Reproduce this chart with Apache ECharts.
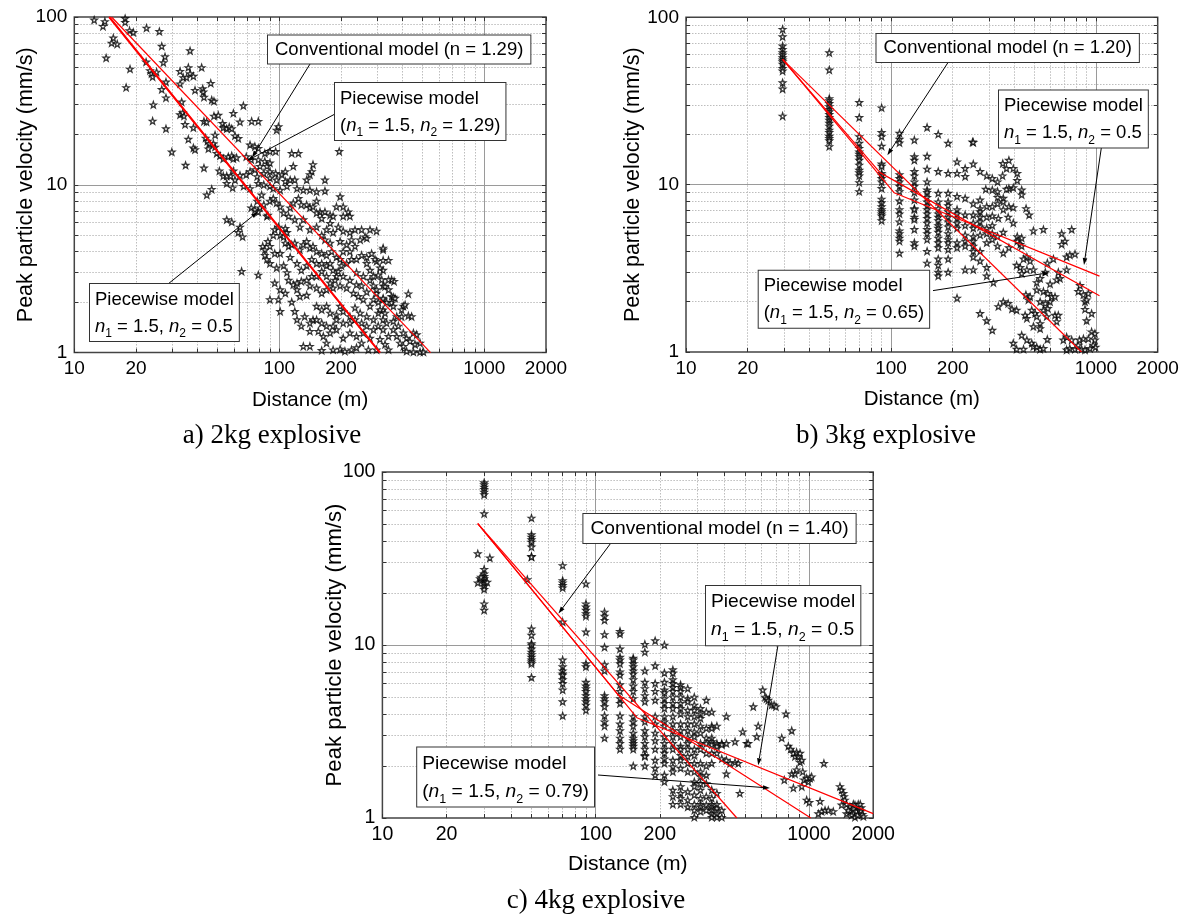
<!DOCTYPE html>
<html>
<head>
<meta charset="utf-8">
<script src="https://cdn.jsdelivr.net/npm/echarts@6.0.0/dist/echarts.min.js"></script>
<style>html,body{margin:0;padding:0;background:#fff}#c{width:1189px;height:920px}</style>
</head>
<body>
<div id="c"></div>
<script>
// ---------- tick / label values ----------
const xLabelValues = [10, 20, 100, 200, 1000, 2000];
const yLabelValues = [1, 10, 100];
const xTickValues = [10,20,30,40,50,60,70,80,90,100,200,300,400,500,600,700,800,900,1000,2000];
const xMinorGrid = [20,30,40,50,60,70,80,90,200,300,400,500,600,700,800,900];
const xMajorGrid = [100, 1000];
const yTickValues = [1,2,3,4,5,6,7,8,9,10,20,30,40,50,60,70,80,90,100];
const yMinorGrid = [2,3,4,5,6,7,8,9,20,30,40,50,60,70,80,90];
const yMajorGrid = [10];

// ---------- panel a: 2 kg ----------
const scatterA = [
[12.5,96],[13.8,88],[14.1,94],[17.7,98],[17.7,93],[15.5,75],[15.2,70],[16.2,69],[14.3,57],[18.6,83],[19.4,81],[22.5,86],[26.0,82],[18.7,49],[17.9,38],[26.7,67],[22.4,54],[27.7,58],[27.2,53.5],[23.4,48],[23.8,46],[24.1,44],[25.2,47],[28.0,41],[26.7,37],[28.0,33],[24.3,30],[24.1,24],[28.0,21.6],[29.9,15.7],[34.9,13.1],[36.7,63],[32.8,47.5],[36.0,50],[36.7,46],[34.0,43.6],[35.3,43.6],[38.1,44.4],[41.8,50],[32.8,40],[38.8,36.6],[42.3,37.4],[42.6,35.8],[42.9,33.3],[46.3,40.3],[46.8,32],[48.0,31.5],[33.4,31.2],[32.8,26.2],[33.8,26.9],[34.3,25.7],[34.7,22.9],[36.0,18.7],[38.1,21.9],[38.1,16.6],[38.8,16.2],[42.9,23.9],[44.2,23.7],[43.7,19.0],[44.6,18.2],[45.4,17.6],[48.6,16.8],[48.0,25.7],[50.4,26.0],[52.9,23.2],[53.3,21.9],[55.4,21.6],[57.0,22.1],[58.6,21.6],[59.7,26.7],[64.3,23.7],[60.8,19.6],[63.1,18.9],[48.6,19.8],[47.7,17.6],[45.1,16.4],[49.5,15.4],[51.4,14.9],[53.3,14.3],[56.4,14.7],[58.6,14.9],[59.7,14.3],[61.9,14.5],[42.9,12.6],[51.0,12.1],[53.3,11.3],[55.4,11.3],[57.9,11.3],[59.7,12.1],[60.8,10.7],[64.3,11.4],[55.4,10.2],[59.2,9.6],[46.8,9.4],
[72,17.3],[76,16.9],[79,16.5],[85,15.4],[90,15.8],[96,15.8],[97,21.2],[99,22.2],[69,14.7],[73,14.1],[79,14.1],[85,13.8],[90,13.5],[87,12.9],[80.5,12.9],[76,12.3],[72,12.0],[69,11.5],[78,11.2],[84,11.7],[90,12.0],[96,11.7],[103,11.5],[107,12.0],[90,11.0],[97,10.7],[107,10.5],[113,10.7],[119,10.7],[79,10.2],[84,10.0],[90,9.8],[93.5,9.5],[101,9.3],[109,9.8],[115,15.4],[124,15.4],[117,12.9],[146,13.2],[144,12.0],[141,11.5],[136,10.7],[167,10.7],[196,15.8],[67,9.8],[72,9.5],[122,9.5],[131,9.3],[141,9.3],[152,9.1],[167,9.2],
[44.3,8.7],[55.4,6.2],[58.6,6.0],[64.3,5.6],[63.1,5.2],[66.2,4.9],[73,7.3],[76,7.1],[79,6.9],[80.5,7.3],[87,6.5],[88,6.6],[84,7.6],[90,8.0],[93.5,8.3],[97,7.8],[78,8.0],[82,8.7],[65.5,3.05],[79,2.9],[83,4.3],[85,4.1],[85,3.8],[88,4.6],[93.5,5.0],[95,5.4],[99,5.6],[101,5.0],[105,4.9],[109,5.2],[107,5.5],[111,6.5],[113,7.3],[117,7.8],[124,8.3],[128,7.6],[136,7.6],[141,7.3],[146,7.4],[152,8.0],[158,6.9],[167,6.9],[177,6.6],[183,6.5],[198,8.5],[205,7.4],[217,6.9],[221,6.5],[107,4.5],[111,4.3],[115,4.4],[119,4.5],[126,4.1],[131,4.4],[136,4.6],[141,4.2],[146,4.3],[152,4.0],[161,3.9],[170,3.8],[180,4.0],[190,3.7],[198,3.6],[205,4.0],[221,4.0],[234,4.3],[248,4.7],[262,4.9],[277,5.4],[298,5.3],[321,4.1],[282,3.9],[267,3.7],[298,3.5],[321,3.1],[90,3.4],[97,3.2],[105,3.3],[109,3.0],[111,2.7],[117,2.54],[122,2.6],[128,2.66],[136,2.7],[144,2.85],[152,2.85],[161,3.05],[170,3.3],[177,3.4],[183,3.1],[190,2.85],[205,2.85],[221,2.7],[238,3.0],[257,2.85],[277,2.7],[288,2.5],[298,2.26],[321,2.07],[122,2.37],[126,2.16],[136,2.2],[141,2.5],[152,2.43],[161,2.26],[170,2.37],[183,2.43],[198,2.5],[213,2.43],[230,2.26],[243,2.16],[257,2.07],[277,1.89],[90,2.07],[99,2.07],[101,1.76],[119,1.76],[133,1.64],[146,1.57],[152,1.89],[161,1.8],[170,1.89],[177,1.72],[190,1.68],[198,1.89],[205,1.76],[221,1.64],[234,1.85],[248,1.72],[267,1.64],[288,1.57],[304,1.72],[321,1.8],[141,1.34],[155,1.34],[164,1.25],[177,1.31],[190,1.37],[205,1.22],[221,1.31],[238,1.25],[257,1.31],[277,1.22],[288,1.37],[170,1.14],[183,1.04],[198,1.05],[209,1.02],[225,1.04],[238,1.07],[252,1.14],[272,1.04],[131,1.09],[141,1.09],[161,1.03],
[113,3.7],[122,3.4],[128,3.1],[136,3.3],[144,3.6],[152,3.4],[161,3.4],[170,2.85],[177,2.6],[187,2.7],[194,3.05],[201,3.3],[213,3.4],[225,3.6],[238,3.6],[252,3.8],[267,3.4],[277,3.1],[288,2.85],[304,2.9],[321,2.5],[238,2.54],[252,2.5],[267,2.3],[288,2.07],[304,2.0],[321,1.57],[252,1.5],[267,1.44],[234,1.57],[221,1.5],[205,1.5],[190,1.57],[183,1.44],[170,1.44],[161,1.5],[152,1.57],[141,1.5],[128,1.44],[122,1.57],[115,2.0],[107,2.26],[101,2.37],[95,2.6],[95,3.9],[101,3.9],[90,4.3],[87,3.6],[101,7.4],[105,6.8],[119,6.2],[126,5.6],[131,6.2],[141,5.4],[152,5.6],[161,5.0],[170,5.4],[183,5.2],[194,5.6],[205,5.3],[221,5.2],[234,5.4],[252,5.4],[267,4.8],[198,4.6],[213,4.4],[225,4.7],[167,4.7],[177,4.5],[152,6.8],[161,6.3],[177,5.9],[190,7.4],[205,6.5],
[363,2.66],[353,2.72],[426,2.24],[403,1.89],[395,1.8],[411,1.93],[374,1.64],[395,1.64],[426,1.66],[442,1.64],[360,1.54],[381,1.44],[403,1.31],[418,1.22],[434,1.17],[451,1.31],[468,1.28],[486,1.14],[459,1.12],[360,1.37],[374,1.25],[388,1.14],[403,1.09],[418,1.02],[451,1.01],[486,1.01],[505,1.01],[353,2.16],[360,2.14],[367,2.11],[353,1.98],[360,1.89],
[321,4.2],[293,3.6],[321,3.55],[341,3.55],[310,3.2],[316,2.72],[341,2.72],[328,2.48],[341,2.37],[298,2.37],[321,2.11],[334,1.99],[310,1.8],[328,1.72],[334,1.5],[304,1.44],[321,1.37],[341,1.25],[310,1.2],[328,1.12],[298,1.04],[341,1.04],
[66.8,29.6],[73.3,23.9],[79,23.9]
];
const conventionalA = [[15.2,100],[547,1]];
const piecewiseA1 = [[14.8,100],[310,1]];
const piecewiseA2 = [[14.8,100],[310,1]];

// ---------- panel b: 3 kg ----------
const columnsB = [
[29.6,[84.8,76.6,67.4,64.4,61.5,59.6,57.4,55.6,54.3,52.6,49.6,47.8,40.7,37.3,25.7]],
[50,[61.5,48.5,32.7,31.8,30.6,29.3,28.2,27.3,26.3,25.2,24.3,23.3,22.4,21.2,20.5,19.5,18.9,18.3,16.9]],
[70,[31.0,25.2,19.4,17.7,16.5,15.7,15.2,14.7,14.0,13.1,12.2,11.8,11.3,10.3,9.1]],
[90,[28.8,20.5,19.4,17.0,13.3,12.9,11.7,11.4,10.9,10.4,9.5,8.2,7.8,7.4,7.1,6.9,6.7,6.5,6.1]],
[110,[20.3,18.7,17.8,11.5,10.9,10.4,9.8,9.1,8.0,7.1,6.7,6.0,5.3,5.1,4.8,4.6,3.9]],
[130,[18.5,14.7,14.0,12.0,11.3,10.4,9.8,9.0,8.1,7.2,7.1,6.4,6.2,5.4,4.5,4.3]],
[150,[22.0,14.8,12.4,10.4,9.3,9.0,8.4,7.9,7.5,7.1,6.7,6.3,5.9,5.4,5.1,4.7,4.0,3.4]],
[170,[20.0,12.0,8.9,7.9,7.2,6.7,6.4,6.1,5.7,5.5,5.2,4.8,4.5,4.2,3.6,3.3,3.0,2.85]],
[190,[17.7,11.7,8.9,7.9,7.5,6.9,6.4,6.0,5.6,5.1,4.7,4.5,4.1,3.6,3.0]],
[210,[13.7,11.7,8.5,7.1,6.7,6.3,5.9,5.5,4.5,4.2,2.1]]
];
const pointsB = [
[250,18],[252,17.9],[230,12.5],[252,13.3],[272,12.0],[230,11.2],[293,11.3],[312,10.9],[331,10.4],[350,11.3],[351,13.4],[376,14.0],[366,12.5],[395,12.5],[413,11.7],[413,10.6],[395,9.6],[376,9.5],[366,9.4],[434,9.3],[434,8.7],[353,8.3],[331,8.4],[312,9.3],[290,9.4],[331,9.1],[272,8.1],[230,8.3],[252,7.7],[272,7.2],[272,6.9],[272,6.4],[272,6.0],[272,5.6],[293,7.4],[312,7.4],[331,7.7],[353,7.1],[353,7.9],[376,7.4],[395,7.3],[456,7.2],[472,6.6],[373,6.4],[395,5.9],[312,6.5],[312,5.7],[293,6.4],[293,5.5],[334,6.3],[252,6.6],[252,5.9],[230,6.6],[252,5.5],[252,4.9],[230,5.7],[230,5.0],[230,4.6],[230,4.3],[252,4.6],[252,4.3],[272,5.0],[293,5.1],[293,4.5],[312,5.1],[312,4.7],[331,4.9],[331,4.3],[353,5.2],[353,3.9],[376,4.2],[413,4.9],[413,4.6],[427,4.4],[434,4.8],[434,4.3],[495,5.3],[554,5.4],[680,5.1],[761,5.4],[706,4.6],[680,4.4],[719,3.7],[745,3.8],[790,3.85],[460,3.7],[477,3.5],[443,3.6],[427,3.2],[410,3.3],[460,3.1],[434,2.95],[495,3.1],[579,3.4],[620,3.6],[655,3.0],[667,2.75],[719,3.1],[643,2.7],[597,2.55],[566,3.0],[534,2.75],[514,2.6],[252,4.0],[252,3.7],[272,3.5],[230,3.1],[252,3.1],[293,3.2],[293,2.85],[272,4.0],[316,2.6],[836,2.5],[820,2.3],[868,2.2],[918,2.24],[884,2.0],[900,2.05],[884,1.8],[952,1.7],[900,1.54],[353,2.0],[373,1.95],[334,1.87],[389,1.81],[410,1.78],[455,2.2],[468,2.05],[477,2.14],[514,2.35],[554,2.3],[582,2.24],[597,2.0],[608,2.14],[631,2.14],[566,1.95],[534,2.0],[554,1.78],[486,1.78],[505,1.7],[514,1.63],[534,1.48],[534,1.38],[495,1.42],[460,1.59],[451,1.66],[631,1.66],[655,1.66],[643,1.52],[575,1.63],[582,1.82],[272,1.7],[293,1.54],[312,1.35],[434,1.26],[460,1.18],[486,1.13],[495,1.08],[514,1.07],[534,1.04],[554,1.05],[410,1.04],[443,1.04],[395,1.13],[579,1.19],[693,1.18],[719,1.23],[761,1.18],[745,1.05],[719,1.03],[790,1.04],[820,1.1],[830,1.18],[868,1.2],[918,1.2],[952,1.32],[988,1.29],[988,1.18],[970,1.1],[995,1.07],[851,1.04],[935,1.05],[884,1.03]
];
const conventionalB = [[29.6,56.1],[850,1]];
const piecewiseB1 = [[29.6,56.1],[88.4,11.8],[1040,2.17]];
const piecewiseB2 = [[29.6,56.1],[103.5,8.95],[1040,2.84]];

// ---------- panel c: 4 kg ----------
const columnsC = [
[30,[86.8,84.5,81.9,79.4,76.6,73.9,57.4,27.4,25.8,24.9,24.2,23.3,22.6,21.9,21.0,17.3,15.9]],
[50,[54.2,43.4,42.1,40.6,39.4,36.9,32.5,32.3,12.4,11.4,10.2,10.0,9.5,9.1,8.8,8.5,8.2,8.0,7.8,6.5]],
[70,[28.8,23.6,22.9,22.1,21.4,13.6,8.2,7.5,7.1,6.8,6.7,6.3,6.0,5.5,4.7,3.9]],
[90,[22.6,17.3,16.6,15.9,15.2,14.7,11.9,7.8,7.5,6.1,5.8,5.6,5.4,5.1,4.9,4.7,4.5,4.2]],
[110,[15.5,14.7,13.9,11.5,9.7,7.7,7.1,5.1,4.9,4.7,4.4,3.9,3.6,3.4,2.9]],
[130,[12.0,11.6,9.5,8.5,8.2,7.8,7.0,6.7,5.9,5.4,4.9,4.6,3.9,3.5,3.2,2.9,2.7,2.5]],
[150,[8.4,8.2,7.8,7.5,7.1,6.8,6.3,5.8,5.4,4.9,3.86,3.6,3.4,3.1,2.9,2.8,2.7,2.6,2.5,2.0]],
[170,[10.1,9.1,7.1,6.1,5.6,5.1,4.7,3.86,3.6,3.2,2.95,2.7,2.5,2.3,2.27,2.0]],
[190,[10.6,7.6,6.0,5.4,4.8,3.86,3.5,3.1,2.8,2.5,2.16,1.94,1.77]],
[210,[10.0,6.9,6.1,5.5,5.3,4.9,4.6,4.3,3.86,3.6,3.4,2.95,2.7,2.5,2.37,2.2,2.07,1.77,1.62]],
[230,[7.2,6.9,6.3,6.0,5.7,5.4,5.0,4.6,4.3,3.86,3.5,3.2,2.95,2.7,2.5,2.16,1.98,1.85,1.45,1.33,1.2]],
[250,[5.9,5.7,5.4,5.0,4.6,4.3,4.0,3.5,3.2,2.95,2.6,2.5,2.3,2.16,1.94,1.52,1.39,1.3,1.2]],
[270,[5.6,4.9,4.7,4.2,3.86,3.5,3.2,2.9,2.7,2.5,2.27,2.07,1.85,1.42,1.27,1.16]],
[290,[5.0,4.5,4.2,3.86,3.5,3.15,2.95,2.5,2.3,2.07,1.85,1.62,1.52,1.36,1.2,1.11,1.01]],
[310,[4.3,4.0,3.77,3.4,3.1,2.7,2.5,2.07,1.85,1.73,1.58,1.45,1.3,1.2,1.16,1.09]],
[330,[4.8,4.1,3.3,2.9,2.7,2.37,2.0,1.77,1.58,1.33,1.19,1.11]],
[350,[4.1,3.4,3.3,2.9,2.76,2.65,2.37,2.07,1.45,1.3,1.2,1.16,1.11,1.06,1.01]],
[370,[3.4,2.7,2.6,2.37,1.39,1.2,1.14,1.06,1.01]],
[390,[2.7,2.65,2.2,1.11,1.01]],
[410,[3.86,2.7,2.16,1.8]]
];
const pointsC = [
[28,33.7],[31.9,31.9],[28,22.9],[28.7,24.2],[31,23.1],[29,24.7],[47.8,23.9],
[427,2.07],[450,2.1],[466,2.07],[450,2.76],[474,1.39],[489,3.15],[511,2.7],[519,2.7],[548,4.4],[569,2.95],[578,3.4],[607,5.5],[622,5.0],[632,4.9],[644,4.8],[668,4.5],[686,4.5],[700,4.4],[745,2.9],[780,4.0],[800,2.6],[830,3.2],[820,2.5],[845,2.37],[860,2.27],[875,2.4],[891,2.27],[908,2.37],[908,2.1],[925,2.16],[830,1.8],[860,1.8],[875,1.9],[935,1.85],[950,1.66],[766,1.66],[845,1.49],[925,1.52],[975,1.7],[993,1.62],[1012,1.7],[1029,1.73],[975,1.27],[1003,1.23],[1127,1.25],[1147,1.09],[1189,1.11],[1175,2.07],[1106,1.06],[1232,1.11],[1300,1.09],[1397,1.52],[1422,1.45],[1449,1.39],[1459,1.33],[1473,1.27],[1500,1.2],[1422,1.19],[1556,1.16],[1614,1.2],[1643,1.19],[1671,1.16],[1702,1.2],[1556,1.09],[1614,1.06],[1671,1.09],[1722,1.11],[1500,1.06],[1584,1.04],[1643,1.01],[1528,1.11],[1690,1.04],[1750,1.1],[1780,1.05],[1760,1.15],[1800,1.02],[1740,1.2]
];
const conventionalC = [[28,50.3],[459,1]];
const piecewiseC1 = [[28,50.3],[127,5.18],[1020,1]];
const piecewiseC2 = [[28,50.3],[156,3.80],[2000,1.06]];

// ---------- text ----------
const titleX = 'Distance (m)';
const titleY = 'Peak particle velocity (mm/s)';
const captions = ['a) 2kg explosive', 'b) 3kg explosive', 'c) 4kg explosive'];

// ---------- build ----------
const FONT = "'Liberation Sans', Arial, Helvetica, sans-serif";
const SERIF = "'Liberation Serif', 'Times New Roman', serif";
const STAR = 'path://M0,-100L23.5,-32.4L95.1,-30.9L38,12.4L58.8,80.9L0,40L-58.8,80.9L-38,12.4L-95.1,-30.9L-23.5,-32.4Z';
const flatten = cols => cols.flatMap(([x, ys]) => ys.map(y => [x, y]));

const panels = [
  {grid:{left:74.3, top:17, width:471.7, height:335.6}, k:1.0, xGap:37, yGap:37,
   scatter: scatterA, lines:[conventionalA, piecewiseA1, piecewiseA2], widths:[1.2, 2, 1.2]},
  {grid:{left:686, top:17.3, width:471.7, height:334.7}, k:1.0, xGap:37, yGap:42,
   scatter: flatten(columnsB).concat(pointsB), lines:[conventionalB, piecewiseB1, piecewiseB2], widths:[1.2,1.2,1.2]},
  {grid:{left:382.4, top:472, width:490.8, height:346}, k:1.03, xGap:36, yGap:37,
   scatter: flatten(columnsC).concat(pointsC), lines:[conventionalC, piecewiseC1, piecewiseC2], widths:[1.2,1.2,1.2]}
];

const grids = [], xAxes = [], yAxes = [], series = [];
panels.forEach((p, g) => {
  grids.push(Object.assign({show:true, borderColor:'#444', borderWidth:1.5, backgroundColor:'rgba(0,0,0,0)', containLabel:false}, p.grid));
  const fs = 19 * p.k;
  const base = {gridIndex:g, type:'log', logBase:10, axisLine:{show:false}, axisLabel:{show:false}, splitLine:{show:false}, minorTick:{show:false}, minorSplitLine:{show:false}};
  const xb = Object.assign({}, base, {min:10, max:2000});
  const yb = Object.assign({}, base, {min:1, max:100});
  const tickStyle = {color:'#333', width:1};
  xAxes.push(
    Object.assign({}, xb, {position:'bottom',
      axisTick:{show:true, inside:true, length:4, customValues:xTickValues, lineStyle:tickStyle},
      axisLabel:{show:true, customValues:xLabelValues, formatter:v => String(Math.round(v)), fontSize:fs, fontFamily:FONT, color:'#000', margin:7},
      name:titleX, nameLocation:'middle', nameGap:p.xGap, nameMoveOverlap:false,
      nameTextStyle:{fontSize:20.5*p.k, fontFamily:FONT, color:'#000'}}),
    Object.assign({}, xb, {position:'top', axisTick:{show:true, inside:true, length:4, customValues:xTickValues, lineStyle:tickStyle}}),
    Object.assign({}, xb, {position:'bottom', axisTick:{show:false, customValues:xMinorGrid},
      splitLine:{show:true, lineStyle:{color:'#bdbdbd', width:1, type:[1.5,1.5]}}}),
    Object.assign({}, xb, {position:'bottom', axisTick:{show:false, customValues:xMajorGrid},
      splitLine:{show:true, lineStyle:{color:'#9a9a9a', width:1}}})
  );
  yAxes.push(
    Object.assign({}, yb, {position:'left',
      axisTick:{show:true, inside:true, length:4, customValues:yTickValues, lineStyle:tickStyle},
      axisLabel:{show:true, customValues:yLabelValues, formatter:v => String(Math.round(v)), fontSize:fs, fontFamily:FONT, color:'#000', margin:7},
      name:titleY, nameLocation:'middle', nameRotate:90, nameGap:p.yGap, nameMoveOverlap:false,
      nameTextStyle:{fontSize:21.5*p.k, fontFamily:FONT, color:'#000'}}),
    Object.assign({}, yb, {position:'right', axisTick:{show:true, inside:true, length:4, customValues:yTickValues, lineStyle:tickStyle}}),
    Object.assign({}, yb, {position:'left', axisTick:{show:false, customValues:yMinorGrid},
      splitLine:{show:true, lineStyle:{color:'#bdbdbd', width:1, type:[1.5,1.5]}}}),
    Object.assign({}, yb, {position:'left', axisTick:{show:false, customValues:yMajorGrid},
      splitLine:{show:true, lineStyle:{color:'#9a9a9a', width:1}}})
  );
  series.push({type:'scatter', xAxisIndex:4*g, yAxisIndex:4*g, data:p.scatter, symbol:STAR, symbolSize:6.5,
    itemStyle:{color:'#fff', borderColor:'#000', borderWidth:1.25}, z:2, silent:true, animation:false});
  p.lines.forEach((d, i) => series.push({type:'line', xAxisIndex:4*g, yAxisIndex:4*g, data:d, symbol:'none',
    lineStyle:{color:'#ff0000', width:p.widths[i]}, z:3, silent:true, animation:false}));
});

const chart = echarts.init(document.getElementById('c'), null, {renderer:'canvas'});
chart.setOption({backgroundColor:'#fff', animation:false, grid:grids, xAxis:xAxes, yAxis:yAxes, series:series});

// ---------- annotations ----------
const PW1 = 'Piecewise model\n({i|n}{s|1} = 1.5, {i|n}{s|2} = ';
const notes = [
  {s:0, k:1.0, box:[268,35.5], two:false, text:'Conventional model (n = 1.29)', from:[310,64], tip:[73.6,14.5]},
  {s:0, k:1.0, box:[335,83], two:true, text:PW1 + '1.29)', from:[335,114], tip:[69.6,13.9]},
  {s:0, k:1.0, box:[90,284], two:true, text:'Piecewise model\n{i|n}{s|1} = 1.5, {i|n}{s|2} = 0.5', from:[168,284], tip:[78.7,6.9]},
  {s:4, k:1.0, box:[876.5,34], two:false, text:'Conventional model (n = 1.20)', from:[949,61], tip:[96,15.0]},
  {s:4, k:1.0, box:[999,90.5], two:true, text:'Piecewise model\n{i|n}{s|1} = 1.5, {i|n}{s|2} = 0.5', from:[1101.6,146], tip:[874,3.31]},
  {s:4, k:1.0, box:[758.7,270.7], two:true, text:PW1 + '0.65)', from:[933,290.6], tip:[592,2.98]},
  {s:8, k:1.04, box:[583.4,514], two:false, text:'Conventional model (n = 1.40)', from:[612,541.5], tip:[66.9,15.2]},
  {s:8, k:1.04, box:[706,586], two:true, text:'Piecewise model\n{i|n}{s|1} = 1.5, {i|n}{s|2} = 0.5', from:[778.4,642.6], tip:[578,2.02]},
  {s:8, k:1.04, box:[417.2,747.4], two:true, text:PW1 + '0.79)', from:[598,775], tip:[656,1.49]}
];
const els = [];
notes.forEach(n => {
  const t = chart.convertToPixel({seriesIndex:n.s}, n.tip);
  const x0 = n.from[0], y0 = n.from[1];
  const dx = t[0]-x0, dy = t[1]-y0, L = Math.hypot(dx, dy), ux = dx/L, uy = dy/L;
  const hl = 7, hw = 2.3, bx = t[0]-ux*hl, by = t[1]-uy*hl;
  els.push({type:'line', z:99, silent:true, shape:{x1:x0, y1:y0, x2:bx, y2:by}, style:{stroke:'#000', lineWidth:1}});
  els.push({type:'polygon', z:99, silent:true, shape:{points:[[t[0],t[1]],[bx-uy*hw, by+ux*hw],[bx+uy*hw, by-ux*hw]]}, style:{fill:'#000'}});
  const fs = 18.5*n.k, lh = n.two ? 27*n.k : 22*n.k;
  els.push({type:'text', z:100, silent:true, x:n.box[0], y:n.box[1], style:{
    text:n.text, fill:'#000', fontSize:fs, fontFamily:FONT, lineHeight:lh,
    backgroundColor:'#fff', borderColor:'#333', borderWidth:1,
    padding: n.two ? [2,5,1,5] : [3,7,3,7],
    rich:{ i:{fontStyle:'italic', fontSize:fs, fontFamily:FONT, lineHeight:lh, fill:'#000'},
           s:{fontSize:fs*0.65, fontFamily:FONT, lineHeight:14, verticalAlign:'bottom', fill:'#000'} }
  }});
});
const capPos = [[272,436],[886,436],[596,901]];
captions.forEach((c, i) => els.push({type:'text', z:100, silent:true, x:capPos[i][0], y:capPos[i][1],
  style:{text:c, fill:'#000', fontSize:27, fontFamily:SERIF, align:'center', verticalAlign:'middle'}}));
chart.setOption({graphic:{elements:els}});
</script>
</body>
</html>
